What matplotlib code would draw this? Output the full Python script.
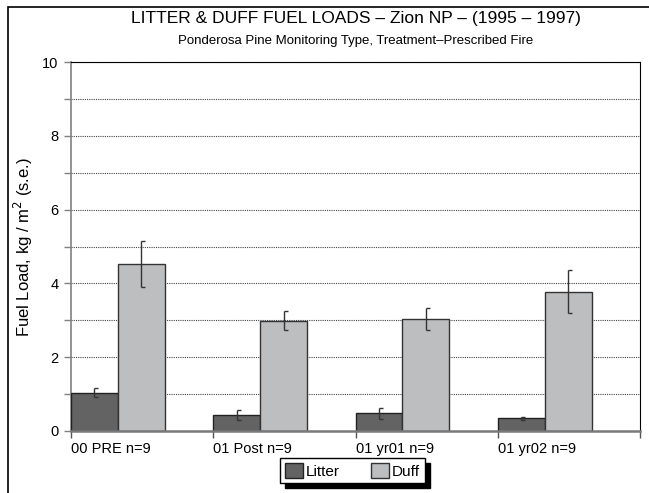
import numpy as np
import matplotlib.pyplot as plt
from matplotlib.patches import Rectangle

plt.rcParams['font.family'] = ['Liberation Sans', 'DejaVu Sans']

# Data
categories = ["00 PRE n=9", "01 Post n=9", "01 yr01 n=9", "01 yr02 n=9"]
litter = [1.04, 0.44, 0.48, 0.34]
litter_se = [0.13, 0.14, 0.15, 0.04]
duff = [4.53, 2.99, 3.03, 3.77]
duff_se = [0.63, 0.26, 0.30, 0.58]

fig = plt.figure(figsize=(6.49, 4.93), dpi=100)
ax = fig.add_axes([71/649, 1 - 431/493, (640 - 71)/649, (431 - 62)/493])

x = np.arange(len(categories))
w = 0.33
litter_col = '#636363'
duff_col = '#bdbebf'

ax.bar(x, litter, width=w, align='edge', color=litter_col, edgecolor='#222222',
       linewidth=1, label='Litter', zorder=3)
ax.bar(x + w, duff, width=w, align='edge', color=duff_col, edgecolor='#333333',
       linewidth=1, label='Duff', zorder=3)

# error bars: vertical line with caps only on the right ("[" shape)
cap = 0.028
for xc, v, e in [(x + w/2, litter, litter_se), (x + 1.5*w, duff, duff_se)]:
    v = np.array(v)
    e = np.array(e)
    ax.vlines(xc, v - e, v + e, color='#333333', lw=1, zorder=4)
    ax.hlines(v - e, xc, xc + cap, color='#333333', lw=1, zorder=4)
    ax.hlines(v + e, xc, xc + cap, color='#333333', lw=1, zorder=4)

ax.set_xlim(0, 4)
ax.set_ylim(0, 10)

# dotted gridlines at each unit
ax.set_yticks(np.arange(0, 11, 2))
ax.set_yticks(np.arange(1, 10, 2), minor=True)
ax.yaxis.grid(True, which='both', linestyle=(0, (1, 1)), color='#444444', lw=0.8, zorder=0)
ax.tick_params(axis='y', which='both', direction='out', length=5, width=1,
               color='#808080', labelsize=10.5, pad=4)

ax.set_xticks(np.arange(0, 5))
ax.set_xticklabels(categories + [""], ha='left')
ax.tick_params(axis='x', direction='out', length=5, width=1, color='#555555',
               labelsize=10.5, pad=3)

ax.spines['left'].set_color('#808080')
ax.spines['left'].set_linewidth(1.2)
ax.spines['bottom'].set_color('#7a7a7a')
ax.spines['bottom'].set_linewidth(1.8)
ax.spines['bottom'].set_zorder(5)
ax.spines['top'].set_color('black')
ax.spines['right'].set_color('black')

ax.set_ylabel('Fuel Load, kg / m$^2$ (s.e.)', fontsize=12, labelpad=5)

fig.text(355.5/649, 1 - 18/493, 'LITTER & DUFF FUEL LOADS – Zion NP – (1995 – 1997)',
         ha='center', va='center', fontsize=12.5)
fig.text(355.5/649, 1 - 41/493, 'Ponderosa Pine Monitoring Type, Treatment–Prescribed Fire',
         ha='center', va='center', fontsize=9.5)

leg = fig.legend(loc='upper center', bbox_to_anchor=(352.5/649, 1 - 458/493), ncol=2,
                 fontsize=11, frameon=True, fancybox=False, edgecolor='black',
                 handlelength=1.2, handleheight=1.2, handletextpad=0.2,
                 columnspacing=2.0, borderpad=0.3, borderaxespad=0)
leg.get_frame().set_linewidth(1)
leg.get_frame().set_alpha(1)

# black drop shadow offset to the lower right of the legend box
fig.canvas.draw()
bb = leg.get_window_extent()
fig.patches.append(Rectangle((bb.x0 + 5, bb.y0 - 5), bb.width, bb.height, transform=None,
                             facecolor='black', edgecolor='black', zorder=leg.get_zorder() - 0.1))

# outer chart frame (only left and top visible in the picture)
fig.patches.append(Rectangle((8/649, -0.2), 1.5, 1 - 7/493 + 0.2, transform=fig.transFigure,
                             fill=False, edgecolor='black', lw=1.2))

fig.savefig('out.png', dpi=100)
